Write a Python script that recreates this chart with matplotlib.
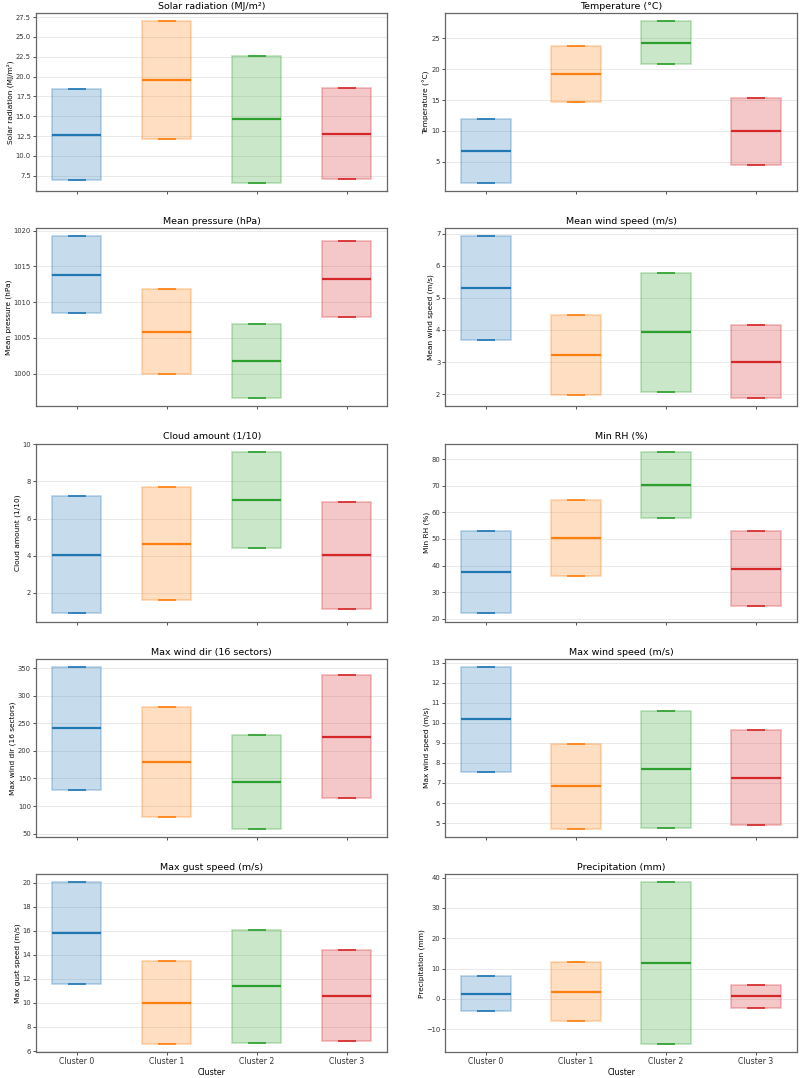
import matplotlib.pyplot as plt
from matplotlib.patches import Rectangle

# Clusters and variables
clusters = ["Cluster 0", "Cluster 1", "Cluster 2", "Cluster 3"]
colors = ["tab:blue", "tab:orange", "tab:green", "tab:red"]

variables = [
    "Solar radiation (MJ/m²)",
    "Temperature (°C)",
    "Mean pressure (hPa)",
    "Mean wind speed (m/s)",
    "Cloud amount (1/10)",
    "Min RH (%)",
    "Max wind dir (16 sectors)",
    "Max wind speed (m/s)",
    "Max gust speed (m/s)",
    "Precipitation (mm)",
]

# Cluster means per variable
solar_mean = [12.65, 19.55, 14.6, 12.8]
temp_mean = [6.8, 19.2, 24.3, 9.95]
pressure_mean = [1013.85, 1005.9, 1001.8, 1013.25]
wind_mean = [5.3, 3.21, 3.93, 3.01]
cloud_mean = [4.05, 4.65, 7.0, 4.03]
rh_mean = [37.5, 50.3, 70.3, 38.8]
dir_mean = [241, 179.5, 143.5, 225.5]
maxwind_mean = [10.17, 6.84, 7.68, 7.26]
gust_mean = [15.8, 10.03, 11.4, 10.6]
precip_mean = [1.8, 2.4, 11.8, 0.85]

# Cluster standard deviations per variable
solar_std = [5.75, 7.45, 8.0, 5.7]
temp_std = [5.2, 4.5, 3.5, 5.45]
pressure_std = [5.35, 5.9, 5.2, 5.25]
wind_std = [1.62, 1.245, 1.855, 1.135]
cloud_std = [3.15, 3.05, 2.6, 2.88]
rh_std = [15.5, 14.4, 12.5, 14.1]
dir_std = [111, 99.5, 84.5, 111.5]
maxwind_std = [2.61, 2.12, 2.93, 2.37]
gust_std = [4.25, 3.45, 4.7, 3.78]
precip_std = [5.9, 9.8, 26.65, 3.75]

means = [solar_mean, temp_mean, pressure_mean, wind_mean, cloud_mean,
         rh_mean, dir_mean, maxwind_mean, gust_mean, precip_mean]
stds = [solar_std, temp_std, pressure_std, wind_std, cloud_std,
        rh_std, dir_std, maxwind_std, gust_std, precip_std]

box_w = 0.55
cap_w = 0.2

fig, axes = plt.subplots(5, 2, figsize=(8, 10.78), sharex=True)

for ax, name, mu, sd in zip(axes.flat, variables, means, stds):
    for i, (m, s, c) in enumerate(zip(mu, sd, colors)):
        lo, hi = m - s, m + s
        ax.add_patch(Rectangle((i - box_w / 2, lo), box_w, hi - lo,
                               facecolor=c, alpha=0.25, edgecolor="none"))
        ax.add_patch(Rectangle((i - box_w / 2, lo), box_w, hi - lo,
                               facecolor="none", edgecolor=c, alpha=0.3, lw=1.2))
        ax.hlines(m, i - box_w / 2, i + box_w / 2, color=c, lw=1.6)
        ax.hlines([lo, hi], i - cap_w / 2, i + cap_w / 2, color=c, lw=1.2)
    ax.autoscale_view()
    ax.set_title(name, fontsize=6.8, pad=3)
    ax.set_ylabel(name, fontsize=5.3, labelpad=1)
    ax.grid(axis="y", alpha=0.3, lw=0.6)
    ax.set_axisbelow(True)
    ax.tick_params(labelsize=4.9, length=2.5, width=0.6, pad=1.2,
                   colors="#333333")
    for sp in ax.spines.values():
        sp.set_color("#666666")
        sp.set_linewidth(0.9)

for ax in axes[-1]:
    ax.set_xticks(range(len(clusters)))
    ax.set_xticklabels(clusters, fontsize=5.6)
    ax.set_xlabel("Cluster", fontsize=5.6, labelpad=1)

plt.subplots_adjust(left=0.045, right=0.996, top=0.988, bottom=0.024,
                    hspace=0.21, wspace=0.165)

plt.savefig("out.png", dpi=100)
plt.close()
